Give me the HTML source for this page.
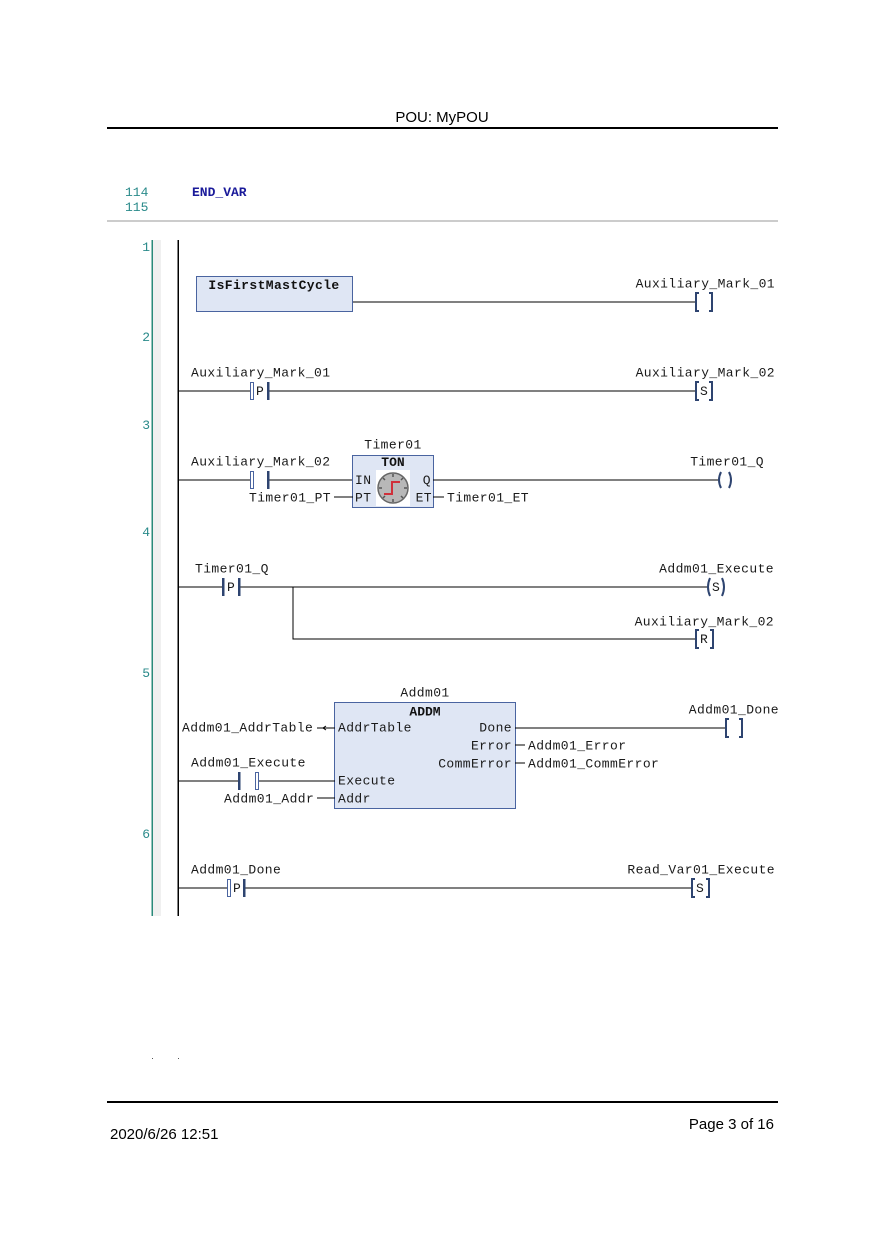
<!DOCTYPE html>
<html><head><meta charset="utf-8"><style>
html,body{margin:0;padding:0;background:#fff;}
svg{display:block;}
.m{font-family:"Liberation Mono",monospace;font-size:13px;letter-spacing:0.4px;fill:#1a1a1a;}
.b{font-family:"Liberation Mono",monospace;font-size:13px;font-weight:bold;fill:#111;}
.n{font-family:"Liberation Mono",monospace;font-size:13px;fill:#2a8a8a;}
.s{font-family:"Liberation Sans",Arial,sans-serif;fill:#000;}
</style></head><body>
<svg width="885" height="1252" viewBox="0 0 885 1252" xmlns="http://www.w3.org/2000/svg">
<!-- header -->
<text class="s" x="442" y="122" font-size="15" text-anchor="middle">POU: MyPOU</text>
<rect x="107" y="127" width="671" height="2" fill="#000"/>
<text class="n" x="125" y="196">114</text>
<text class="n" x="125" y="211">115</text>
<text x="192" y="196" font-family="Liberation Mono,monospace" font-size="13" font-weight="bold" fill="#1a1a9a">END_VAR</text>
<rect x="107" y="220.5" width="671" height="1" fill="#9a9a9a"/>

<!-- left rails -->
<rect x="153" y="240" width="8" height="676" fill="#f0f0f0"/>
<rect x="151.5" y="240" width="1.5" height="676" fill="#2a8a7a"/>
<rect x="177.5" y="240" width="1.5" height="676" fill="#000"/>
<g class="n" text-anchor="end">
<text x="150" y="251">1</text>
<text x="150" y="341">2</text>
<text x="150" y="429">3</text>
<text x="150" y="536">4</text>
<text x="150" y="677">5</text>
<text x="150" y="838">6</text>
</g>

<!-- Rung 1 -->
<rect x="196.5" y="276.5" width="156" height="35" fill="#dfe6f4" stroke="#4a64a0" stroke-width="1"/>
<text class="b" x="274" y="289" text-anchor="middle" letter-spacing="0.4">IsFirstMastCycle</text>
<line x1="353" y1="302" x2="696" y2="302" stroke="#000" stroke-width="1"/>
<text class="m" x="775" y="287.5" text-anchor="end">Auxiliary_Mark_01</text>
<g stroke="#2e4470" stroke-width="2" fill="none">
<path d="M699,293 h-3 v18 h3"/><path d="M709,293 h3 v18 h-3"/>
</g>

<!-- Rung 2 -->
<text class="m" x="191" y="376.5">Auxiliary_Mark_01</text>
<line x1="178" y1="391" x2="250" y2="391" stroke="#000"/>
<line x1="269" y1="391" x2="696" y2="391" stroke="#000"/>
<rect x="250.5" y="382.5" width="3" height="17" fill="#fff" stroke="#4a64a0" stroke-width="1"/>
<rect x="267" y="382" width="2.5" height="18" fill="#2e4470"/>
<text class="m" x="256" y="395" font-size="11" letter-spacing="0">P</text>
<text class="m" x="775" y="376.5" text-anchor="end">Auxiliary_Mark_02</text>
<g stroke="#2e4470" stroke-width="2" fill="none">
<path d="M699,382 h-3 v18 h3"/><path d="M709,382 h3 v18 h-3"/>
</g>
<text class="m" x="700" y="395" font-size="11" letter-spacing="0">S</text>

<!-- Rung 3 -->
<text class="m" x="191" y="465.5">Auxiliary_Mark_02</text>
<line x1="178" y1="480" x2="251" y2="480" stroke="#000"/>
<line x1="269" y1="480" x2="353" y2="480" stroke="#000"/>
<rect x="250.5" y="471.5" width="3" height="17" fill="#fff" stroke="#4a64a0" stroke-width="1"/>
<rect x="267" y="471" width="2.5" height="18" fill="#2e4470"/>
<text class="m" x="393" y="448.5" text-anchor="middle">Timer01</text>
<rect x="352.5" y="455.5" width="81" height="52" fill="#dfe6f4" stroke="#4a64a0"/>
<text class="b" x="393" y="466" text-anchor="middle">TON</text>
<text class="m" x="355" y="484">IN</text>
<text class="m" x="355" y="501.5">PT</text>
<text class="m" x="431" y="484" text-anchor="end">Q</text>
<text class="m" x="432" y="501.5" text-anchor="end">ET</text>
<rect x="376" y="470" width="34" height="36" fill="#fff"/>
<circle cx="393" cy="488" r="15" fill="#b8b8b8" stroke="#666" stroke-width="1.5"/>
<g stroke="#555" stroke-width="1.5">
<line x1="393" y1="474" x2="393" y2="477"/><line x1="393" y1="499" x2="393" y2="502"/>
<line x1="379" y1="488" x2="382" y2="488"/><line x1="404" y1="488" x2="407" y2="488"/>
<line x1="383" y1="478" x2="385" y2="480"/><line x1="401" y1="496" x2="403" y2="498"/>
<line x1="403" y1="478" x2="401" y2="480"/><line x1="385" y1="496" x2="383" y2="498"/>
</g>
<path d="M384,494 h8 v-12 h8" fill="none" stroke="#d0303a" stroke-width="2"/>
<text class="m" x="249" y="501.5">Timer01_PT</text>
<line x1="334" y1="497" x2="353" y2="497" stroke="#000"/>
<line x1="433" y1="497" x2="444" y2="497" stroke="#000"/>
<text class="m" x="447" y="501.5">Timer01_ET</text>
<line x1="433" y1="480" x2="718" y2="480" stroke="#000"/>
<text class="m" x="764" y="465.5" text-anchor="end">Timer01_Q</text>
<g stroke="#2e4470" stroke-width="2" fill="none">
<path d="M721,472 q-4,8 0,16"/><path d="M729,472 q4,8 0,16"/>
</g>

<!-- Rung 4 -->
<text class="m" x="195" y="572.5">Timer01_Q</text>
<line x1="178" y1="587" x2="223" y2="587" stroke="#000"/>
<line x1="240" y1="587" x2="708" y2="587" stroke="#000"/>
<rect x="222" y="578" width="2.5" height="18" fill="#2e4470"/>
<rect x="238" y="578" width="2.5" height="18" fill="#2e4470"/>
<text class="m" x="227" y="591" font-size="11" letter-spacing="0">P</text>
<polyline points="293,587 293,639 697,639" fill="none" stroke="#000"/>
<text class="m" x="774" y="572.5" text-anchor="end">Addm01_Execute</text>
<g stroke="#2e4470" stroke-width="2" fill="none">
<path d="M710,578 q-4,9 0,18"/><path d="M722,578 q4,9 0,18"/>
</g>
<text class="m" x="712" y="591" font-size="11" letter-spacing="0">S</text>
<text class="m" x="774" y="625.5" text-anchor="end">Auxiliary_Mark_02</text>
<g stroke="#2e4470" stroke-width="2" fill="none">
<path d="M699,630 h-3 v18 h3"/><path d="M710,630 h3 v18 h-3"/>
</g>
<text class="m" x="700" y="643" font-size="11" letter-spacing="0">R</text>

<!-- Rung 5 -->
<text class="m" x="425" y="696.5" text-anchor="middle">Addm01</text>
<rect x="334.5" y="702.5" width="181" height="106" fill="#dfe6f4" stroke="#4a64a0"/>
<text class="b" x="425" y="715.5" text-anchor="middle">ADDM</text>
<text class="m" x="338" y="731.5">AddrTable</text>
<text class="m" x="512" y="731.5" text-anchor="end">Done</text>
<text class="m" x="512" y="749.5" text-anchor="end">Error</text>
<text class="m" x="512" y="767.5" text-anchor="end">CommError</text>
<text class="m" x="338" y="784.5">Execute</text>
<text class="m" x="338" y="802.5">Addr</text>
<text class="m" x="182" y="731.5">Addm01_AddrTable</text>
<line x1="317" y1="728" x2="335" y2="728" stroke="#000"/>
<path d="M326,726 l-3,2 l3,2" fill="none" stroke="#000" stroke-width="1"/>
<text class="m" x="191" y="766.5">Addm01_Execute</text>
<line x1="178" y1="781" x2="240" y2="781" stroke="#000"/>
<line x1="258" y1="781" x2="335" y2="781" stroke="#000"/>
<rect x="238" y="772" width="2.5" height="18" fill="#2e4470"/>
<rect x="255.5" y="772.5" width="3" height="17" fill="#fff" stroke="#4a64a0"/>
<text class="m" x="224" y="802.5">Addm01_Addr</text>
<line x1="317" y1="798" x2="335" y2="798" stroke="#000"/>
<line x1="515" y1="728" x2="727" y2="728" stroke="#000"/>
<line x1="515" y1="745" x2="525" y2="745" stroke="#000"/>
<line x1="515" y1="763" x2="525" y2="763" stroke="#000"/>
<text class="m" x="528" y="749.5">Addm01_Error</text>
<text class="m" x="528" y="767.5">Addm01_CommError</text>
<text class="m" x="779" y="713.5" text-anchor="end">Addm01_Done</text>
<g stroke="#2e4470" stroke-width="2" fill="none">
<path d="M729,719 h-3 v18 h3"/><path d="M739,719 h3 v18 h-3"/>
</g>

<!-- Rung 6 -->
<text class="m" x="191" y="873.5">Addm01_Done</text>
<line x1="178" y1="888" x2="228" y2="888" stroke="#000"/>
<line x1="245" y1="888" x2="692" y2="888" stroke="#000"/>
<rect x="227.5" y="879.5" width="3" height="17" fill="#fff" stroke="#4a64a0"/>
<rect x="243" y="879" width="2.5" height="18" fill="#2e4470"/>
<text class="m" x="233" y="892" font-size="11" letter-spacing="0">P</text>
<text class="m" x="775" y="873.5" text-anchor="end">Read_Var01_Execute</text>
<g stroke="#2e4470" stroke-width="2" fill="none">
<path d="M695,879 h-3 v18 h3"/><path d="M706,879 h3 v18 h-3"/>
</g>
<text class="m" x="696" y="892" font-size="11" letter-spacing="0">S</text>

<!-- footer -->
<rect x="152" y="1058" width="1" height="1" fill="#555"/>
<rect x="178" y="1058" width="1" height="1" fill="#555"/>
<rect x="107" y="1101" width="671" height="2" fill="#000"/>
<text class="s" x="774" y="1129" font-size="15" text-anchor="end">Page 3 of 16</text>
<text class="s" x="110" y="1139" font-size="15">2020/6/26 12:51</text>
</svg>
</body></html>
